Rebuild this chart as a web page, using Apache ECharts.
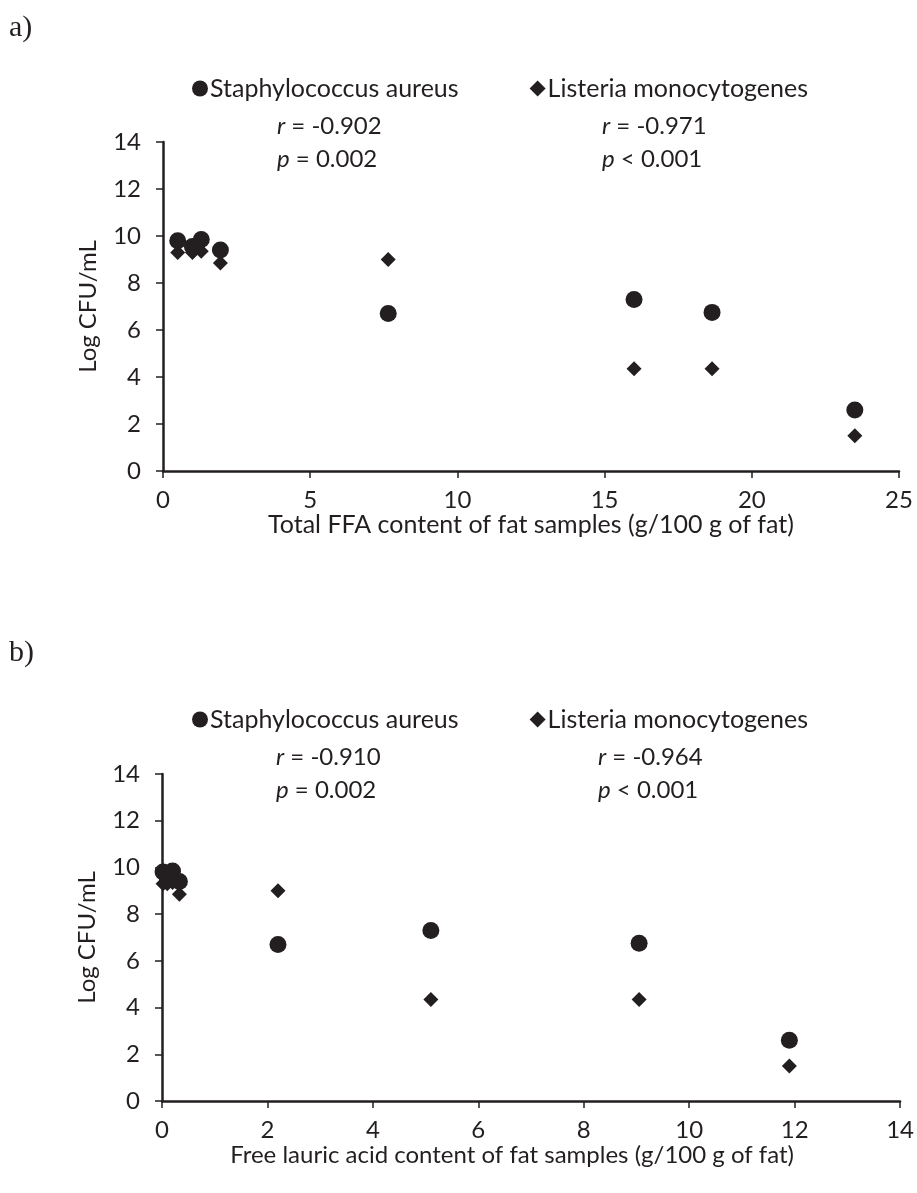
<!DOCTYPE html>
<html>
<head>
<meta charset="utf-8">
<script src="https://cdn.jsdelivr.net/npm/echarts@6/dist/echarts.min.js"></script>
<style>
  html, body { margin: 0; padding: 0; background: #fff; }
  #chart { width: 917px; height: 1193px; }
</style>
</head>
<body>
<div id="chart"></div>
<script>
// panel a: total FFA (g/100 g of fat)
const ffaStaph = [0.5, 1.0, 1.3, 1.95, 7.65, 16.0, 18.65, 23.5];
const ffaListeria = [0.5, 1.0, 1.3, 1.95, 7.65, 16.0, 18.65, 23.5];
// panel b: free lauric acid (g/100 g of fat)
const lauricStaph = [0.02, 0.1, 0.2, 0.33, 2.2, 5.1, 9.05, 11.9];
const lauricListeria = [0.02, 0.1, 0.2, 0.33, 2.2, 5.1, 9.05, 11.9];
// Log CFU/mL
const logStaph = [9.8, 9.55, 9.85, 9.4, 6.7, 7.3, 6.75, 2.6];
const logListeria = [9.3, 9.3, 9.35, 8.85, 9.0, 4.35, 4.35, 1.5];

const statsA = [['r', '= -0.902', 'p', '= 0.002'], ['r', '= -0.971', 'p', '< 0.001']];
const statsB = [['r', '= -0.910', 'p', '= 0.002'], ['r', '= -0.964', 'p', '< 0.001']];

const ink = '#231f20';
const font = 'Lato, "Open Sans", sans-serif';
const fs = 24;

const pairs = (xs, ys) => xs.map((x, i) => [x, ys[i]]);

function xAxis(gridIndex, max, interval, name, nameSize, shift) {
    return {
        type: 'value', gridIndex, min: 0, max, interval,
        name, nameLocation: 'middle', nameGap: 37,
        nameTextStyle: { color: ink, fontSize: nameSize, fontFamily: font, padding: [0, shift, 0, 0] },
        axisLine: { onZero: false, lineStyle: { color: ink, width: 2.5 } },
        axisTick: { show: true, length: 7, lineStyle: { color: ink, width: 1.5 } },
        axisLabel: { color: ink, fontSize: fs, fontFamily: font, margin: 17 },
        splitLine: { show: false }
    };
}

function yAxis(gridIndex) {
    return {
        type: 'value', gridIndex, min: 0, max: 14, interval: 2,
        name: 'Log CFU/mL', nameLocation: 'middle', nameGap: 63,
        nameTextStyle: { color: ink, fontSize: fs, fontFamily: font },
        axisLine: { show: true, lineStyle: { color: ink, width: 2.5 } },
        axisTick: { show: true, length: 7, lineStyle: { color: ink, width: 1.5 } },
        axisLabel: { color: ink, fontSize: fs, fontFamily: font, margin: 22 },
        splitLine: { show: false }
    };
}

function statText(left, top, s) {
    return {
        type: 'text', left, top,
        style: {
            text: '{i|' + s[0] + '} ' + s[1] + '\n{i|' + s[2] + '} ' + s[3],
            fill: ink, fontSize: 24, fontFamily: font, lineHeight: 33,
            rich: { i: { fontStyle: 'italic', fontSize: 24, fontFamily: font, fill: ink, lineHeight: 33 } }
        }
    };
}

function legend(top) {
    return {
        top, left: 187, itemWidth: 16, itemHeight: 16, itemGap: 71,
        textStyle: { color: ink, fontSize: 25, fontFamily: font, padding: [0, 0, 0, -3] },
        data: [
            { name: 'Staphylococcus aureus', icon: 'circle' },
            { name: 'Listeria monocytogenes', icon: 'diamond' }
        ]
    };
}

const chart = echarts.init(document.getElementById('chart'));
chart.setOption({
    animation: false,
    backgroundColor: '#fff',
    grid: [
        { left: 163, right: 18, top: 142, height: 329 },
        { left: 162, right: 16, top: 774, height: 327 }
    ],
    legend: [legend(71), legend(702)],
    xAxis: [
        xAxis(0, 25, 5, 'Total FFA content of fat samples (g/100 g of fat)', 25, 0),
        xAxis(1, 14, 2, 'Free lauric acid content of fat samples (g/100 g of fat)', 24, 38)
    ],
    yAxis: [yAxis(0), yAxis(1)],
    graphic: [
        { type: 'text', left: 9, top: 13, style: { text: 'a)', fill: ink, fontSize: 30, fontFamily: '"Liberation Serif", serif' } },
        { type: 'text', left: 9, top: 638, style: { text: 'b)', fill: ink, fontSize: 30, fontFamily: '"Liberation Serif", serif' } },
        statText(277, 110, statsA[0]),
        statText(602, 110, statsA[1]),
        statText(276, 741, statsB[0]),
        statText(598, 741, statsB[1])
    ],
    series: [
        { name: 'Staphylococcus aureus', type: 'scatter', xAxisIndex: 0, yAxisIndex: 0, symbol: 'circle', symbolSize: 17, itemStyle: { color: ink, opacity: 1 }, data: pairs(ffaStaph, logStaph), z: 3 },
        { name: 'Listeria monocytogenes', type: 'scatter', xAxisIndex: 0, yAxisIndex: 0, symbol: 'diamond', symbolSize: 15, itemStyle: { color: ink, opacity: 1 }, data: pairs(ffaListeria, logListeria), z: 2 },
        { name: 'Staphylococcus aureus', type: 'scatter', xAxisIndex: 1, yAxisIndex: 1, symbol: 'circle', symbolSize: 17, itemStyle: { color: ink, opacity: 1 }, data: pairs(lauricStaph, logStaph), z: 3 },
        { name: 'Listeria monocytogenes', type: 'scatter', xAxisIndex: 1, yAxisIndex: 1, symbol: 'diamond', symbolSize: 15, itemStyle: { color: ink, opacity: 1 }, data: pairs(lauricListeria, logListeria), z: 2 }
    ]
});
</script>
</body>
</html>
